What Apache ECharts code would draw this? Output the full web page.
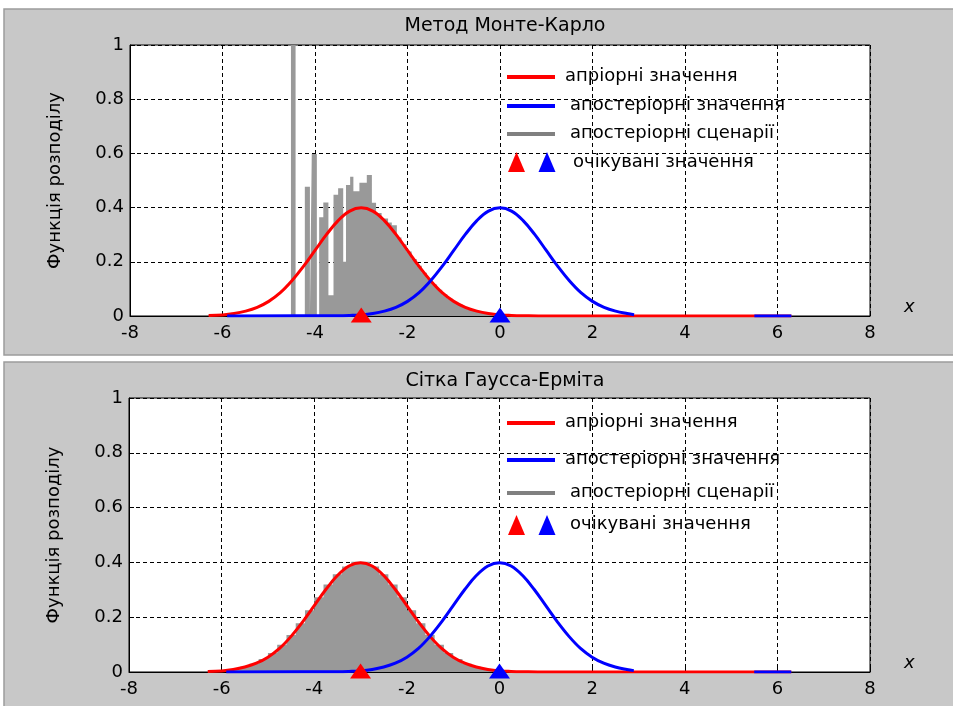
<!DOCTYPE html>
<html>
<head>
    <meta charset="utf-8">
    <script src="https://cdn.jsdelivr.net/npm/echarts@6/dist/echarts.min.js"></script>
</head>
<body style="margin:0;background:#fff;">
    <div id="main" style="width:953px;height:706px;"></div>
    <script type="text/javascript">
        // осі
        var xMin = -8, xMax = 8, xStep = 2;
        var yMin = 0, yMax = 1, yStep = 0.2;
        var panelTitles = ['Метод Монте-Карло', 'Сітка Гаусса-Ерміта'];
        var yName = 'Функція розподілу';
        var xName = 'x';
        var names = ['апріорні значення', 'апостеріорні значення', 'апостеріорні сценарії', 'очікувані значення'];

        // апріорна густина (червона)
        var priorCurve = [
            [-6.3, 0.002], [-6.0, 0.004], [-5.75, 0.009], [-5.5, 0.018], [-5.25, 0.032],
            [-5.0, 0.054], [-4.75, 0.086], [-4.5, 0.130], [-4.25, 0.183], [-4.0, 0.242],
            [-3.75, 0.301], [-3.5, 0.352], [-3.25, 0.387], [-3.0, 0.399], [-2.75, 0.387],
            [-2.5, 0.352], [-2.25, 0.301], [-2.0, 0.242], [-1.75, 0.183], [-1.5, 0.130],
            [-1.25, 0.086], [-1.0, 0.054], [-0.75, 0.032], [-0.5, 0.018], [-0.25, 0.009],
            [0.0, 0.004], [0.25, 0.002], [0.5, 0.001], [1.0, 0], [6.3, 0]
        ];
        // апостеріорна густина (синя)
        var posteriorCurve = [
            [-5.9, 0], [-3.5, 0.001], [-3.25, 0.002], [-3.0, 0.004], [-2.75, 0.009],
            [-2.5, 0.018], [-2.25, 0.032], [-2.0, 0.054], [-1.75, 0.086], [-1.5, 0.130],
            [-1.25, 0.183], [-1.0, 0.242], [-0.75, 0.301], [-0.5, 0.352], [-0.25, 0.387],
            [0.0, 0.399], [0.25, 0.387], [0.5, 0.352], [0.75, 0.301], [1.0, 0.242],
            [1.25, 0.183], [1.5, 0.130], [1.75, 0.086], [2.0, 0.054], [2.25, 0.032],
            [2.5, 0.018], [2.75, 0.009], [2.9, 0.005], [4.0, null], [5.5, 0], [6.3, 0]
        ];
        // гістограма сценаріїв, Монте-Карло: [лівий край, висота]
        var mcHist = [
            [-4.52, 1.0], [-4.42, 0], [-4.22, 0.477], [-4.11, 0], [-4.07, 0.598],
            [-3.96, 0], [-3.91, 0.364], [-3.82, 0.419], [-3.71, 0.077], [-3.60, 0.447],
            [-3.50, 0.471], [-3.39, 0.2], [-3.33, 0.483], [-3.24, 0.514], [-3.17, 0.46],
            [-3.04, 0.492], [-2.88, 0.52], [-2.77, 0.418], [-2.68, 0.38], [-2.56, 0.36],
            [-2.42, 0.345], [-2.34, 0.335], [-2.23, 0.29], [-2.13, 0.265], [-2.02, 0.238],
            [-1.91, 0.21], [-1.80, 0.185], [-1.69, 0.16], [-1.58, 0.137], [-1.47, 0.116],
            [-1.36, 0.097], [-1.25, 0.08], [-1.14, 0.065], [-1.03, 0.052], [-0.92, 0.042],
            [-0.81, 0.033], [-0.70, 0.025], [-0.59, 0.019], [-0.48, 0.014], [-0.37, 0.011],
            [-0.26, 0.008], [-0.15, 0.005], [-0.04, 0]
        ];
        // гістограма сценаріїв, сітка Гаусса-Ерміта
        var ghHist = [
            [-6.2, 0.004], [-6.0, 0.007], [-5.8, 0.011], [-5.6, 0.019], [-5.4, 0.030],
            [-5.2, 0.047], [-5.0, 0.069], [-4.8, 0.099], [-4.6, 0.135], [-4.4, 0.178],
            [-4.2, 0.225], [-4.0, 0.273], [-3.8, 0.319], [-3.6, 0.357], [-3.4, 0.385],
            [-3.2, 0.402], [-3.0, 0.402], [-2.8, 0.385], [-2.6, 0.357], [-2.4, 0.319],
            [-2.2, 0.273], [-2.0, 0.225], [-1.8, 0.178], [-1.6, 0.135], [-1.4, 0.099],
            [-1.2, 0.069], [-1.0, 0.047], [-0.8, 0.030], [-0.6, 0.019], [-0.4, 0.011],
            [-0.2, 0.007], [0.0, 0]
        ];
        var expectedPrior = [[-3, 0]];
        var expectedPosterior = [[0, 0]];

        var RED = '#ff0000', BLUE = '#0000ff', GRAY = '#999999';
        var FONT = 'DejaVu Sans';

        var grids = [
            { left: 130, top: 45, width: 740, height: 271 },
            { left: 129, top: 398, width: 741, height: 274 }
        ];

        var myChart = echarts.init(document.getElementById('main'));

        var xAxes = [], yAxes = [], series = [], titles = [];
        var hists = [mcHist, ghHist];
        var titleY = [12, 367];

        for (var i = 0; i < 2; i++) {
            titles.push({
                text: panelTitles[i],
                left: 500,
                top: titleY[i],
                textAlign: 'center',
                textStyle: { fontFamily: FONT, fontSize: 19, fontWeight: 'normal', color: '#000' }
            });
            xAxes.push({
                type: 'value', gridIndex: i, min: xMin, max: xMax, interval: xStep,
                name: xName, nameLocation: 'end', nameGap: 34,
                nameTextStyle: { fontFamily: FONT, fontSize: 18, fontStyle: 'italic', color: '#000', verticalAlign: 'bottom' },
                axisLine: { show: true, onZero: false, lineStyle: { color: '#000', width: 1 } },
                axisTick: { show: true, inside: true, length: 5, lineStyle: { color: '#000' } },
                axisLabel: { color: '#000', fontFamily: FONT, fontSize: 18, margin: 8 },
                splitLine: { show: true, lineStyle: { color: '#000', type: [4, 3], width: 1 } }
            });
            yAxes.push({
                type: 'value', gridIndex: i, min: yMin, max: yMax, interval: yStep,
                name: yName, nameLocation: 'middle', nameGap: 66,
                nameTextStyle: { fontFamily: FONT, fontSize: 18, color: '#000' },
                axisLine: { show: true, onZero: false, lineStyle: { color: '#000', width: 1 } },
                axisTick: { show: true, inside: true, length: 5, lineStyle: { color: '#000' } },
                axisLabel: { color: '#000', fontFamily: FONT, fontSize: 18, margin: 6 },
                splitLine: { show: true, lineStyle: { color: '#000', type: [4, 3], width: 1 } }
            });
            series.push({
                name: names[2], type: 'line', xAxisIndex: i, yAxisIndex: i,
                data: hists[i], step: 'end', symbol: 'none', silent: true,
                lineStyle: { width: 0 }, itemStyle: { color: GRAY },
                areaStyle: { color: GRAY, opacity: 1 }, z: 2
            });
            series.push({
                name: names[0], type: 'line', xAxisIndex: i, yAxisIndex: i,
                data: priorCurve, smooth: 0.4, symbol: 'none',
                lineStyle: { color: RED, width: 3 }, itemStyle: { color: RED }, z: 3
            });
            series.push({
                name: names[1], type: 'line', xAxisIndex: i, yAxisIndex: i,
                data: posteriorCurve, smooth: 0.4, symbol: 'none', connectNulls: false,
                lineStyle: { color: BLUE, width: 3 }, itemStyle: { color: BLUE }, z: 4
            });
            series.push({
                name: names[3], type: 'scatter', xAxisIndex: i, yAxisIndex: i,
                data: expectedPrior, symbol: 'triangle', symbolSize: [21, 15], symbolOffset: [0, -1],
                clip: false, itemStyle: { color: RED, opacity: 1 }, z: 6
            });
            series.push({
                name: names[3], type: 'scatter', xAxisIndex: i, yAxisIndex: i,
                data: expectedPosterior, symbol: 'triangle', symbolSize: [21, 15], symbolOffset: [0, -1],
                clip: false, itemStyle: { color: BLUE, opacity: 1 }, z: 6
            });
        }

        // легенди (всередині графіків)
        var legends = [
            { lines: [77, 106, 134], texts: [[565, 76], [570, 105], [570, 133], [573, 162]], tri: 162 },
            { lines: [423, 460, 493], texts: [[565, 422], [565, 459], [570, 492], [570, 524]], tri: 525 }
        ];
        var lineColors = [RED, BLUE, '#808080'];
        var graphic = [
            { type: 'rect', z: -10, shape: { x: 4, y: 9, width: 960, height: 346 }, style: { fill: '#c8c8c8', stroke: '#9c9c9c', lineWidth: 1.5 } },
            { type: 'rect', z: -10, shape: { x: 4, y: 362, width: 960, height: 360 }, style: { fill: '#c8c8c8', stroke: '#9c9c9c', lineWidth: 1.5 } }
        ];
        legends.forEach(function (lg) {
            for (var k = 0; k < 3; k++) {
                graphic.push({
                    type: 'line', z: 100,
                    shape: { x1: 507, y1: lg.lines[k], x2: 555, y2: lg.lines[k] },
                    style: { stroke: lineColors[k], lineWidth: 4 }
                });
            }
            for (var k = 0; k < 4; k++) {
                graphic.push({
                    type: 'text', z: 100, x: lg.texts[k][0], y: lg.texts[k][1],
                    style: { text: names[k], fill: '#000', font: '18px "DejaVu Sans"', verticalAlign: 'middle', textVerticalAlign: 'middle' }
                });
            }
            [[516.5, RED], [547, BLUE]].forEach(function (t) {
                graphic.push({
                    type: 'polygon', z: 100,
                    shape: { points: [[t[0] - 8.5, lg.tri + 10], [t[0] + 8.5, lg.tri + 10], [t[0], lg.tri - 10]] },
                    style: { fill: t[1] }
                });
            });
        });

        var option = {
            animation: false,
            backgroundColor: '#fff',
            title: titles,
            grid: grids.map(function (g) {
                return { left: g.left, top: g.top, width: g.width, height: g.height, show: true, backgroundColor: '#fff', borderColor: '#000', borderWidth: 1 };
            }),
            xAxis: xAxes,
            yAxis: yAxes,
            series: series,
            graphic: graphic
        };
        myChart.setOption(option);
    </script>
</body>
</html>
